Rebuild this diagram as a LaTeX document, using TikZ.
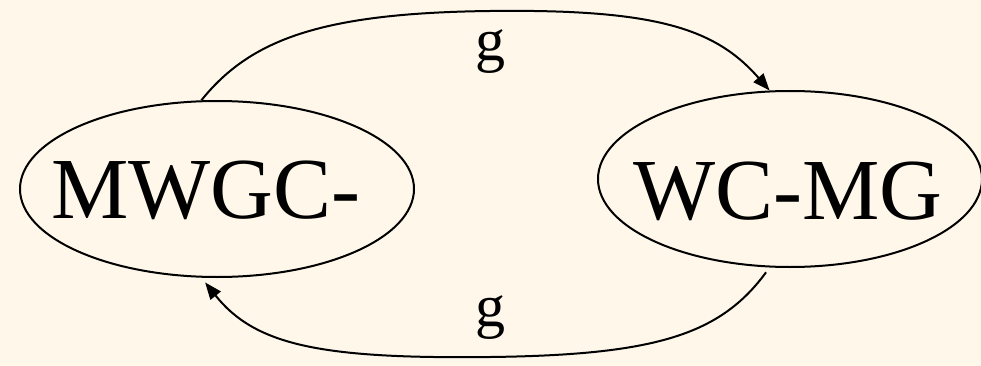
\documentclass[tikz,border=0pt]{standalone}
\usepackage{fontspec}
\setmainfont{Liberation Serif}
\usetikzlibrary{shapes.geometric,arrows.meta}
\definecolor{bgcream}{HTML}{FEF7EA}
\tikzset{
  statebox/.style={draw=black, line width=2pt, ellipse, inner sep=0pt},
  bigtext/.style={font=\fontsize{87}{87}\selectfont, inner sep=0pt},
  edgelabel/.style={font=\fontsize{60}{60}\selectfont, inner sep=0pt},
  conn/.style={draw=black, line width=2pt, -{Triangle[length=17pt,width=13pt]}}
}
\begin{document}
\begin{tikzpicture}[x=1pt,y=-1pt]
\fill[bgcream] (0,0) rectangle (981,366);
\useasboundingbox (0,0) rectangle (981,366);
\node[statebox, minimum width=394pt, minimum height=176pt] (L) at (217,189) {};
\node[statebox, minimum width=384pt, minimum height=176pt] (R) at (790,179) {};
\node[bigtext] (Ltext) at (206,190) {MWGC-};
\node[bigtext] (Rtext) at (788,191) {WC-MG};
\coordinate (topmid) at (490,11);
\coordinate (botmid) at (490,357);
\path[conn] (L.100) .. controls (250,40) and (320,13) .. (topmid)
  .. controls (655,9) and (715,28) .. (R.103);
\path[conn, shorten <=6pt, shorten >=6pt] (R.257) .. controls (720,335) and (655,355) .. (botmid)
  .. controls (320,359) and (255,345) .. (L.260);
\node[edgelabel] (gtop) at (490,52) {g};
\node[edgelabel] (gbot) at (490,318) {g};
\end{tikzpicture}
\end{document}
